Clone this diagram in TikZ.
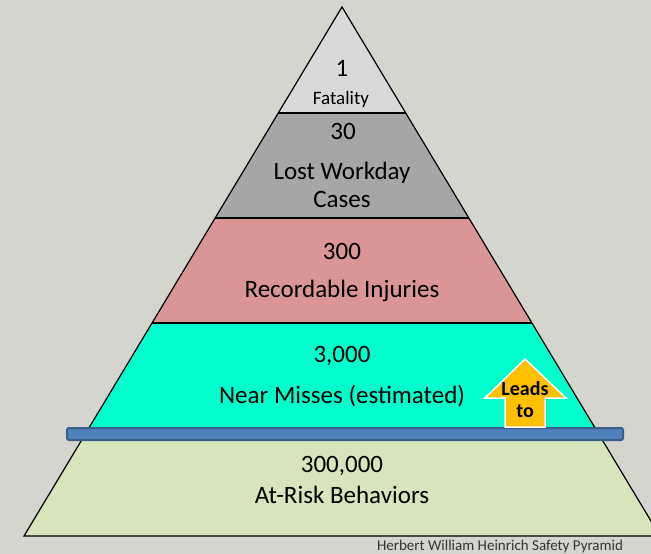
\documentclass[tikz,border=0pt]{standalone}
\usepackage{fontspec}
\setmainfont{Carlito}
\usepackage{xcolor}
\usepackage{tikz}

\definecolor{bgGrey}{RGB}{211,213,206}
\definecolor{fatalGrey}{RGB}{217,217,217}
\definecolor{lostGrey}{RGB}{166,166,166}
\definecolor{recRose}{RGB}{217,150,148}
\definecolor{nearAqua}{RGB}{0,255,204}
\definecolor{riskOlive}{RGB}{215,228,188}
\definecolor{barBlue}{RGB}{79,129,189}
\definecolor{barEdge}{RGB}{56,93,138}
\definecolor{leadsGold}{RGB}{255,192,0}

\tikzset{
  band/.style={draw=black, line width=1.2pt},
  bigtext/.style={font=\fontsize{25}{28}\selectfont, align=center, inner sep=0pt},
  smalltext/.style={font=\fontsize{19}{22}\selectfont, inner sep=0pt},
}

\begin{document}
\begin{tikzpicture}[x=1pt, y=-1pt]
			\useasboundingbox (0,0) rectangle (651,554);
			\clip (0,0) rectangle (651,554);
			\fill[bgGrey] (0,0) rectangle (651,554);
			% pyramid bands, top to bottom
			\fill[fatalGrey] (342,7) -- (405.7,113) -- (278.3,113) -- cycle;
			\fill[lostGrey] (278.3,113) -- (405.7,113) -- (468.8,218) -- (215.2,218) -- cycle;
			\fill[recRose] (215.2,218) -- (468.8,218) -- (531.9,323) -- (152.1,323) -- cycle;
			\fill[nearAqua] (152.1,323) -- (531.9,323) -- (596.2,430) -- (87.8,430) -- cycle;
			\fill[riskOlive] (87.8,430) -- (596.2,430) -- (660,536) -- (24,536) -- cycle;
			\draw[band] (342,7) -- (660,536) -- (24,536) -- cycle;
			\draw[band] (278.3,113) -- (405.7,113);
			\draw[band] (215.2,218) -- (468.8,218);
			\draw[band] (152.1,323) -- (531.9,323);
			% dividing bar
			\draw[barEdge, fill=barBlue, line width=2pt, rounded corners=2pt] (67,428) rectangle (623,440);
			% leads to arrow
			\draw[white, fill=leadsGold, line width=1.5pt] (525,359) -- (566,398) -- (545,398) -- (545,427) -- (505,427) -- (505,398) -- (485,398) -- cycle;
			\node[font=\fontsize{20}{22}\selectfont\bfseries, align=center, inner sep=0pt] (leads) at (525,400) {Leads\\to};
			% labels
			\node[bigtext] (fatalNum) at (342,68) {1};
			\node[smalltext] (fatalText) at (341,99) {Fatality};
			\node[bigtext] (lostNum) at (343,131) {30};
			\node[bigtext] (lostText) at (342,185) {Lost Workday\\Cases};
			\node[bigtext] (recNum) at (342,251) {300};
			\node[bigtext] (recText) at (342,291) {Recordable Injuries};
			\node[bigtext] (nearNum) at (342,356) {3,000};
			\node[bigtext] (nearText) at (342,396) {Near Misses (estimated)};
			\node[bigtext] (riskNum) at (342,466) {300,000};
			\node[bigtext] (riskText) at (342,495) {At-Risk Behaviors};
			\node[font=\fontsize{15}{17}\selectfont, text=black!80, inner sep=0pt] (caption) at (500,546) {Herbert William Heinrich Safety Pyramid};
		\end{tikzpicture}
\end{document}
